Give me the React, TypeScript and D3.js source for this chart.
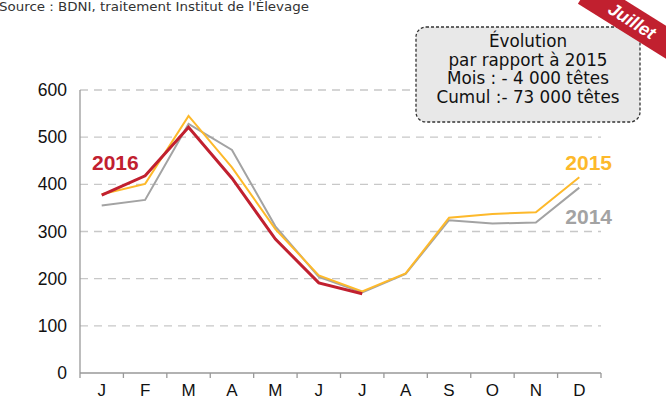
import React from "react";
import * as d3 from "d3";

const months = ["J", "F", "M", "A", "M", "J", "J", "A", "S", "O", "N", "D"];
const yTicks = [0, 100, 200, 300, 400, 500, 600];
const series2014 = [355, 367, 528, 473, 311, 204, 171, 210, 324, 317, 319, 393];
const series2015 = [379, 401, 545, 436, 305, 207, 173, 211, 329, 337, 341, 415];
const series2016 = [377, 418, 521, 413, 284, 191, 168];
const boxLines = ["Évolution", "par rapport à 2015", "Mois : - 4 000 têtes", "Cumul :- 73 000 têtes"];
const sourceText = "Source : BDNI, traitement Institut de l'Élevage";

const W = 666, H = 403;
const left = 80, right = 601, top = 90, bottom = 373;

export default function App() {
  const x = d3.scaleBand<number>().domain(d3.range(12)).range([left, right]);
  const y = d3.scaleLinear().domain([0, 600]).range([bottom, top]);
  const line = d3.line<number>().x((_, i) => (x(i) as number) + x.bandwidth() / 2).y((d) => y(d));
  const font = "'Liberation Sans', Arial, sans-serif";
  const boxFont = "'DejaVu Sans', sans-serif";
  const red = "#C1202F", yellow = "#FDB92B", gray = "#A3A3A3";
  return (
    <svg width={W} height={H} style={{ position: "absolute", left: 0, top: 0, background: "#fff" }} fontFamily={font}>
      <text x={-1} y={11} fontSize={13} fill="#333" fontFamily={boxFont} textLength={310} lengthAdjust="spacingAndGlyphs">{sourceText}</text>
      {yTicks.map((t) => (
        <g key={t}>
          {t > 0 && <line x1={left} x2={right} y1={y(t)} y2={y(t)} stroke="#C8C8C8" strokeWidth={1.3} strokeDasharray="8,6" />}
          <text x={67} y={y(t) + 6} textAnchor="end" fontSize={17.5} fill="#111">{t}</text>
        </g>
      ))}
      <line x1={left} x2={left} y1={top} y2={bottom} stroke="#999" strokeWidth={1.3} />
      <line x1={left} x2={right} y1={bottom} y2={bottom} stroke="#999" strokeWidth={1.3} />
      {d3.range(13).map((i) => {
        const xx = i < 12 ? (x(i) as number) : right;
        return <line key={i} x1={xx} x2={xx} y1={bottom} y2={bottom + 5} stroke="#999" strokeWidth={1.3} />;
      })}
      {months.map((m, i) => (
        <text key={i} x={(x(i) as number) + x.bandwidth() / 2} y={bottom + 23} textAnchor="middle" fontSize={17} fill="#111">{m}</text>
      ))}
      <path d={line(series2014) || ""} fill="none" stroke={gray} strokeWidth={2} />
      <path d={line(series2015) || ""} fill="none" stroke={yellow} strokeWidth={2} />
      <path d={line(series2016) || ""} fill="none" stroke={red} strokeWidth={3} />
      <text x={92} y={170} fontSize={21} fontWeight="bold" fill={red}>2016</text>
      <text x={612} y={170} textAnchor="end" fontSize={21} fontWeight="bold" fill={yellow}>2015</text>
      <text x={612} y={224} textAnchor="end" fontSize={21} fontWeight="bold" fill={gray}>2014</text>
      <rect x={416} y={27} width={224} height={95} rx={10} ry={10} fill="#E8E8E8" stroke="#333" strokeWidth={1.3} strokeDasharray="3,2" />
      {boxLines.map((l, i) => (
        <text key={i} x={528} y={47 + i * 18.5} textAnchor="middle" fontSize={16.8} fill="#111" fontFamily={boxFont}>{l}</text>
      ))}
      <g transform="translate(632,21) rotate(32)">
        <rect x={-55} y={-14} width={110} height={28} fill="#C1202F" />
        <text x={0} y={6} textAnchor="middle" fontSize={18} fontWeight="bold" fontStyle="italic" fill="#fff">Juillet</text>
      </g>
    </svg>
  );
}
